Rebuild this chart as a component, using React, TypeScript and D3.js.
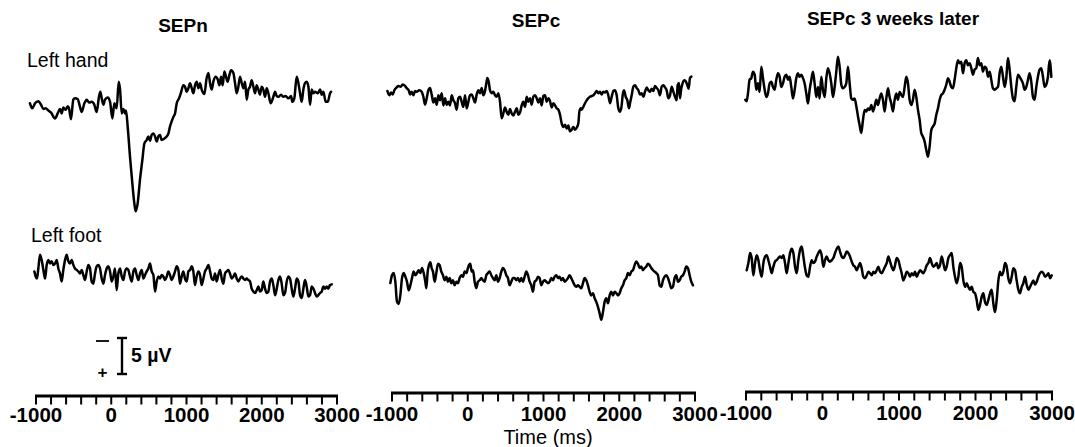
import React from 'react';
import * as d3 from 'd3';

// ---- data: [time ms, amplitude µV] (negative plotted upward) ----
const handSEPn: [number, number][] = [[-1080,0],[-1049,0.7],[-1013,0],[-969,-0.3],[-933,0.2],[-902,0.8],[-871,0.7],[-836,1.0],[-800,1.3],[-747,2.1],[-712,1.4],[-681,0.8],[-659,1.4],[-637,0.6],[-606,0.9],[-579,0.4],[-561,0.7],[-535,2.2],[-504,-0.5],[-482,-0.7],[-446,-0.6],[-415,0.5],[-393,1.2],[-357,0],[-326,-0.5],[-295,-0.1],[-260,-0.2],[-225,0.2],[-194,1.2],[-163,-0.9],[-145,-1.6],[-127,-0.7],[-105,0.2],[-83,-0.5],[-47,-0.8],[-16,-0.2],[15,2.1],[41,0],[72,0.7],[99,-3.0],[117,-1.9],[139,1.4],[161,0.8],[183,1.4],[196,1.0],[218,3.2],[249,7.4],[280,11.1],[307,13.9],[325,15.0],[351,13.9],[382,10.6],[413,7.9],[440,5.6],[471,5.1],[493,4.6],[515,5.2],[537,4.4],[560,4.2],[582,4.6],[604,5.3],[626,4.6],[648,4.4],[670,5.1],[706,4.9],[737,4.6],[759,4.2],[781,3.2],[803,2.5],[825,1.9],[848,1.4],[870,0],[901,-0.7],[927,-1.5],[958,-2.5],[980,-2.3],[1003,-1.6],[1025,-2.1],[1047,-2.8],[1069,-2.1],[1091,-1.4],[1113,-2.5],[1135,-3.0],[1158,-2.1],[1180,-2.8],[1202,-1.9],[1237,-1.3],[1268,-3.5],[1291,-4.2],[1313,-2.8],[1335,-1.9],[1357,-3.0],[1388,-3.7],[1415,-3.3],[1437,-2.5],[1459,-3.7],[1481,-2.5],[1503,-4.4],[1525,-3.7],[1547,-3.0],[1570,-3.9],[1592,-4.6],[1623,-4.2],[1645,-2.8],[1667,-1.4],[1689,-2.3],[1711,-3.7],[1734,-2.8],[1756,-2.1],[1778,-3.0],[1800,-0.5],[1822,-1.9],[1844,-2.3],[1866,-3.2],[1889,-2.3],[1911,-1.4],[1933,-2.5],[1955,-1.9],[1977,-1.2],[1999,-2.3],[2021,-1.9],[2044,-0.9],[2066,-2.1],[2088,-1.4],[2119,0],[2154,-0.9],[2177,-1.6],[2199,-1.0],[2221,-0.9],[2256,-1.2],[2287,-0.9],[2318,-1.0],[2354,-0.7],[2389,-1.0],[2407,-0.2],[2433,-0.7],[2464,-3.7],[2487,-2.8],[2509,-1.4],[2531,-0.2],[2553,-1.9],[2575,-2.8],[2597,-3.0],[2620,-2.3],[2642,0.2],[2664,-1.9],[2686,-1.4],[2708,-1.6],[2744,-1.4],[2775,-1.9],[2797,-1.2],[2819,-1.6],[2850,-0.2],[2877,-0.2],[2908,-1.4],[2921,-1.6]];

const handSEPc: [number, number][] = [[-1061,-0.1],[-1035,0.5],[-1013,0.1],[-991,0.4],[-969,-0.2],[-938,-0.6],[-916,-0.8],[-885,-0.7],[-859,-1.0],[-828,-0.8],[-806,-0.5],[-780,-0.2],[-762,0.4],[-740,0],[-718,0.5],[-696,-0.1],[-674,0],[-639,-0.2],[-608,0],[-586,0.7],[-564,1.8],[-542,0.9],[-520,-0.2],[-498,-0.5],[-476,0.4],[-454,1.5],[-432,0.9],[-410,1.8],[-388,0.5],[-366,1.2],[-344,0.2],[-322,1.9],[-300,0.9],[-278,1.8],[-256,1.4],[-234,1.9],[-212,0.5],[-190,1.2],[-168,1.6],[-146,2.5],[-124,0.9],[-102,0.7],[-80,1.4],[-58,2.1],[-36,0.5],[-14,2.3],[8,1.4],[30,0.5],[52,0.4],[74,0.9],[96,1.5],[118,0.4],[140,-0.2],[162,0.2],[184,-0.5],[206,0.5],[228,-0.1],[241,-0.9],[259,-1.9],[276,-1.4],[294,-0.2],[316,0.2],[338,0],[360,0.5],[382,0.7],[404,0.2],[426,1.4],[448,3.7],[470,3.0],[492,2.2],[514,2.8],[536,3.2],[558,2.4],[580,3.0],[602,3.3],[624,2.8],[646,2.3],[668,3.2],[690,2.9],[712,1.9],[734,1.4],[756,2.1],[778,0.7],[800,1.4],[822,0.9],[844,1.8],[866,0.7],[888,0.5],[910,0.9],[932,1.5],[954,0.9],[976,1.9],[998,0.6],[1020,0.5],[1042,1.4],[1064,0.9],[1086,1.3],[1108,2.2],[1130,1.6],[1152,1.9],[1174,2.3],[1196,2.5],[1218,3.2],[1240,4.4],[1262,4.9],[1284,4.6],[1306,5.1],[1328,4.7],[1350,5.5],[1372,5.3],[1394,4.9],[1416,5.3],[1438,5.0],[1460,4.4],[1473,2.8],[1491,2.3],[1504,2.5],[1526,2.1],[1548,1.6],[1570,1.2],[1592,0.9],[1614,0.7],[1636,0.6],[1658,0.5],[1680,0.2],[1702,-0.1],[1724,0.2],[1746,0],[1768,0.4],[1790,0],[1812,0.1],[1834,-0.1],[1856,0.5],[1878,1.6],[1900,0.7],[1922,-0.1],[1944,-0.2],[1966,0.5],[1988,2.3],[2010,2.8],[2032,1.9],[2045,0.5],[2063,-0.2],[2085,0.7],[2107,1.2],[2129,2.3],[2142,1.6],[2164,0.5],[2186,-0.7],[2208,-0.9],[2230,-0.5],[2252,-0.2],[2274,0.4],[2296,0.2],[2318,0.7],[2340,0],[2362,-0.6],[2384,-0.2],[2406,0],[2428,-0.4],[2450,-0.1],[2472,-0.8],[2494,-0.5],[2516,-0.2],[2538,0.5],[2560,-0.7],[2582,-0.9],[2604,-0.6],[2626,-0.2],[2648,0.9],[2670,0.5],[2692,-0.7],[2714,0],[2736,0.7],[2758,1.2],[2771,-0.9],[2789,-1.2],[2802,0.9],[2815,-0.2],[2837,-1.2],[2859,-1.6],[2881,-1.4],[2899,-0.9],[2916,-0.4],[2934,-1.9],[2952,-2.1]];

const handSEPc3w: [number, number][] = [[-1009,2.3],[-992,2.5],[-974,1.4],[-953,-0.5],[-931,-0.7],[-909,-1.6],[-887,-1.2],[-865,0.9],[-844,0],[-822,1.2],[-800,-2.3],[-778,-0.7],[-756,0.9],[-735,1.9],[-713,1.4],[-691,0],[-669,-0.2],[-648,0.5],[-626,0.9],[-604,-0.5],[-582,-1.4],[-560,-0.9],[-539,0.5],[-517,0],[-495,-0.9],[-473,-1.2],[-451,-0.5],[-430,-0.9],[-408,0.5],[-386,2.1],[-364,0.9],[-343,-0.7],[-321,-1.4],[-299,-0.9],[-277,-1.2],[-255,-0.7],[-234,0],[-212,1.4],[-190,2.8],[-168,0.9],[-146,-0.5],[-125,-1.6],[-103,0],[-81,1.9],[-59,0.5],[-38,2.1],[-16,-0.9],[6,0.9],[28,1.9],[50,-0.7],[71,-2.1],[93,-1.4],[115,0],[137,1.9],[159,0.5],[180,-1.6],[202,-3.7],[224,-2.3],[246,0.2],[267,0.7],[289,0.5],[311,0],[333,-2.3],[355,0],[376,2.1],[398,2.3],[420,2.1],[442,3.2],[464,4.6],[485,5.8],[507,6.9],[529,5.1],[551,3.7],[572,3.9],[594,3.5],[616,3.7],[638,3.0],[660,3.9],[681,3.2],[703,2.3],[725,3.0],[747,2.1],[769,1.4],[790,2.3],[812,3.9],[834,2.1],[856,0.7],[877,1.9],[899,2.8],[921,3.9],[943,2.3],[965,1.4],[986,2.3],[1008,1.2],[1030,1.6],[1052,1.9],[1074,0.5],[1095,-0.9],[1117,0],[1139,2.3],[1161,3.0],[1182,2.3],[1204,0.9],[1226,1.9],[1248,3.7],[1270,5.1],[1291,6.9],[1313,7.4],[1335,8.1],[1357,9.3],[1379,10.2],[1400,8.8],[1422,6.5],[1444,6.0],[1466,5.6],[1487,4.4],[1509,3.5],[1531,2.3],[1553,1.6],[1575,1.4],[1596,0.9],[1618,0.2],[1640,-0.7],[1662,-0.2],[1683,0.5],[1705,0.7],[1727,-0.5],[1749,-2.1],[1771,-3.2],[1792,-2.8],[1814,-3.0],[1836,-1.4],[1858,-2.8],[1880,-3.2],[1901,-2.5],[1923,-2.8],[1945,-2.1],[1967,-1.2],[1988,-1.9],[2010,-2.1],[2032,-3.5],[2054,-2.5],[2076,-2.8],[2097,-1.6],[2119,-2.3],[2141,-2.1],[2163,-0.9],[2185,-1.6],[2206,-0.5],[2228,0.7],[2250,0.9],[2272,0.7],[2294,0.5],[2315,-1.4],[2337,-2.3],[2359,-0.9],[2381,0.5],[2402,-0.7],[2424,-3.5],[2446,-1.9],[2468,0.5],[2489,2.1],[2511,2.5],[2533,0.5],[2555,-1.2],[2577,-0.9],[2598,-0.5],[2620,0],[2642,0.9],[2664,0.5],[2686,-0.5],[2707,-1.4],[2729,-0.2],[2751,1.9],[2773,2.3],[2795,0.5],[2816,-0.9],[2838,-1.9],[2860,-2.1],[2882,-0.9],[2903,0.5],[2925,0.2],[2947,-0.9],[2969,-3.2],[2991,-0.9]];

const footSEPn: [number, number][] = [[-1022,-0.5],[-1004,0.2],[-987,0.5],[-969,-0.9],[-947,-2.8],[-925,-2.1],[-902,-0.7],[-880,0.5],[-858,-1.4],[-836,-2.1],[-814,-1.6],[-792,-1.9],[-769,-1.4],[-747,-1.6],[-725,-2.1],[-703,-0.9],[-681,-0.2],[-659,0.9],[-637,-0.7],[-614,-2.1],[-592,-2.8],[-570,-1.9],[-548,-1.6],[-526,-2.1],[-504,-1.4],[-482,-0.9],[-459,-0.7],[-437,-0.5],[-415,-0.2],[-393,-0.7],[-371,0],[-349,0.7],[-326,-0.5],[-304,-1.4],[-282,-0.9],[-260,0.9],[-238,1.2],[-216,-0.2],[-194,-1.2],[-171,-1.4],[-149,-0.9],[-127,0.5],[-105,1.2],[-83,0],[-61,-0.9],[-39,-1.2],[-16,-0.5],[6,0.9],[28,0.2],[50,-0.9],[72,2.1],[94,-0.2],[117,-0.9],[139,0.2],[161,0.7],[183,-0.5],[205,-0.9],[227,-0.7],[249,0.2],[272,0.9],[294,-0.5],[316,-0.9],[338,0],[360,0.7],[382,-0.2],[405,-0.7],[427,0.5],[449,0],[471,-0.5],[493,-0.9],[515,-1.6],[537,-0.5],[560,0],[582,2.3],[604,0.9],[626,0.2],[648,0.5],[670,0],[692,0.2],[715,0.7],[737,0.2],[759,-0.5],[781,0],[803,0.7],[825,0.2],[848,-0.5],[870,-1.2],[892,-0.7],[914,1.2],[936,0.2],[958,-0.5],[980,0.5],[1003,0.9],[1025,-0.5],[1047,-0.7],[1069,-1.2],[1091,-0.5],[1113,1.4],[1135,0.2],[1158,-0.5],[1180,0],[1202,1.4],[1224,0.5],[1246,-0.5],[1268,-0.9],[1291,-1.4],[1313,-0.5],[1335,0.5],[1357,0.7],[1379,-0.2],[1401,0.9],[1423,0],[1446,-0.7],[1468,0.5],[1490,1.2],[1512,-0.2],[1534,-0.5],[1556,-0.7],[1578,-0.2],[1601,0.5],[1623,0.2],[1645,-0.2],[1667,0.5],[1689,0.9],[1711,0.5],[1734,0.2],[1756,0.5],[1778,0.7],[1800,0.5],[1822,0.7],[1844,0.9],[1866,1.9],[1889,2.3],[1911,2.5],[1933,2.1],[1955,1.6],[1977,2.3],[1999,2.1],[2021,0.9],[2044,1.9],[2066,2.5],[2088,2.3],[2110,0.9],[2132,0.5],[2154,1.4],[2177,2.8],[2199,1.9],[2221,0.7],[2243,0.2],[2265,1.2],[2287,2.8],[2309,2.5],[2332,0.9],[2354,0.2],[2376,0.5],[2398,1.9],[2420,3.0],[2442,1.9],[2464,0.5],[2487,0.9],[2509,2.8],[2531,3.2],[2553,1.9],[2575,0.7],[2597,1.6],[2620,3.0],[2642,2.8],[2664,1.6],[2686,1.9],[2708,2.5],[2730,3.0],[2752,2.8],[2775,2.5],[2797,2.3],[2819,1.6],[2841,1.9],[2863,1.6],[2885,1.9],[2907,1.4],[2930,1.3]];

const footSEPc: [number, number][] = [[-1022,0.2],[-1000,-0.9],[-978,-1.2],[-956,0],[-934,2.8],[-912,3.1],[-890,1.9],[-868,-0.5],[-846,-1.2],[-824,-0.7],[-802,0],[-780,1.2],[-758,0.5],[-736,-0.5],[-714,-1.4],[-692,-0.9],[-670,-1.2],[-648,-1.6],[-626,-1.2],[-604,-1.9],[-582,-1.2],[-560,0],[-547,0.9],[-529,-1.4],[-512,-2.3],[-494,-2.7],[-477,-1.9],[-459,-1.4],[-437,0],[-415,-1.2],[-393,-2.5],[-371,-2.3],[-349,-1.4],[-327,-0.9],[-305,-0.2],[-283,-0.7],[-261,0],[-239,-0.5],[-217,0.2],[-195,-0.2],[-173,0.5],[-151,0],[-129,0.2],[-107,-0.5],[-85,-0.9],[-63,-0.7],[-41,-1.4],[-19,-1.2],[3,-1.9],[16,-2.3],[34,-2.5],[51,-1.4],[69,-1.6],[91,0],[113,0.9],[135,0],[157,-0.2],[179,-0.5],[201,-0.2],[223,0],[245,-0.9],[267,-1.2],[289,-1.4],[311,-0.9],[333,-0.5],[355,-0.2],[377,-0.9],[399,0],[421,-0.5],[443,-1.4],[465,-1.9],[487,-1.6],[509,-0.9],[531,-0.5],[553,0.5],[575,0],[597,-0.5],[619,-0.5],[641,-0.2],[663,-0.5],[685,0],[707,-0.5],[729,0],[751,-0.7],[773,-1.4],[795,-0.9],[817,0],[839,0.5],[861,1.4],[883,0],[905,-0.2],[927,-0.7],[949,-0.5],[971,0.5],[993,0],[1015,-0.2],[1037,0],[1059,0.2],[1081,0],[1103,-0.5],[1125,-0.2],[1147,-0.7],[1169,-0.9],[1191,-0.5],[1213,-0.7],[1235,-0.2],[1257,-0.5],[1279,0],[1301,-0.2],[1323,-0.5],[1345,-0.9],[1367,-0.5],[1389,0],[1411,0.5],[1433,0.7],[1455,0.5],[1477,0.7],[1499,0.9],[1521,0.2],[1543,-0.5],[1565,-0.2],[1587,0.5],[1609,1.4],[1631,1.9],[1653,1.6],[1675,2.3],[1697,2.8],[1719,3.5],[1741,4.4],[1763,5.3],[1785,4.2],[1807,2.8],[1829,2.3],[1851,3.0],[1873,1.9],[1895,1.4],[1917,1.9],[1939,1.4],[1961,1.6],[1983,1.9],[2005,1.6],[2027,0.9],[2049,0.5],[2071,-0.2],[2093,-0.5],[2115,-1.2],[2137,-0.9],[2159,-1.4],[2181,-1.6],[2203,-2.3],[2225,-2.8],[2247,-2.5],[2269,-1.9],[2291,-2.1],[2313,-1.6],[2335,-1.9],[2357,-2.1],[2379,-2.5],[2401,-2.3],[2423,-1.9],[2445,-1.6],[2467,-1.4],[2489,-1.2],[2511,-0.9],[2533,0.5],[2555,0.7],[2577,-0.2],[2599,-0.7],[2621,-0.9],[2643,-0.5],[2665,0.2],[2687,0.9],[2709,0.7],[2731,-0.5],[2753,-0.9],[2775,0],[2797,-0.2],[2819,-0.7],[2841,-0.9],[2863,-1.4],[2885,-2.1],[2907,-1.9],[2929,-0.9],[2951,0],[2973,0.5]];

const footSEPc3w: [number, number][] = [[-991,0.5],[-969,-0.5],[-947,-1.9],[-926,-1.2],[-904,1.2],[-882,-0.5],[-860,-1.6],[-838,-0.9],[-817,0.5],[-795,1.4],[-773,-0.5],[-751,-1.4],[-729,-1.6],[-708,-0.9],[-686,0],[-664,0.9],[-642,0],[-621,-0.7],[-599,-0.9],[-577,-1.2],[-555,-1.4],[-533,-1.2],[-512,-1.6],[-490,-0.5],[-468,0.9],[-446,-0.5],[-424,-1.9],[-403,-2.5],[-381,-1.9],[-359,0],[-337,0.9],[-316,-0.9],[-294,-2.3],[-272,-2.8],[-250,-1.4],[-228,0.2],[-207,1.2],[-185,1.4],[-163,0],[-141,-0.9],[-120,-0.5],[-98,-0.7],[-76,-1.4],[-54,-1.9],[-32,-2.3],[-11,-1.6],[11,0],[33,-0.9],[55,-1.4],[77,-0.9],[98,-0.7],[120,-0.9],[142,-1.2],[164,-1.9],[186,-2.5],[207,-2.8],[229,-2.1],[251,-1.4],[273,-1.2],[295,-1.6],[316,-2.1],[338,-1.9],[360,-1.4],[382,-0.7],[403,-0.2],[425,0],[447,0.5],[469,0],[491,-0.5],[512,0.2],[534,1.4],[556,1.6],[578,1.2],[599,0.7],[621,0.9],[643,1.2],[665,0.7],[687,0.9],[708,0.5],[730,0],[752,0.7],[774,0.9],[796,0.5],[817,0],[839,-0.5],[861,-1.4],[883,-0.7],[904,0],[926,0.5],[948,-0.2],[970,-1.2],[992,-0.9],[1013,0],[1035,0.9],[1057,1.9],[1079,1.4],[1101,0.7],[1122,0.9],[1144,1.4],[1166,0.9],[1188,1.2],[1209,0.7],[1231,1.4],[1253,0.9],[1275,0.5],[1297,0.7],[1318,0.9],[1340,0.5],[1362,-0.2],[1384,-0.5],[1405,-1.2],[1427,-0.5],[1449,0],[1471,-0.2],[1493,-0.5],[1514,0.2],[1536,-0.2],[1558,-1.4],[1580,-0.5],[1602,0.5],[1623,0],[1645,-1.2],[1667,-1.6],[1689,-1.9],[1710,0],[1732,1.4],[1754,2.3],[1776,1.4],[1798,-0.5],[1819,0],[1841,1.9],[1863,2.8],[1885,2.3],[1906,2.8],[1928,3.2],[1950,2.8],[1972,3.5],[1994,3.7],[2015,4.6],[2037,6.0],[2059,5.3],[2081,4.2],[2103,3.7],[2124,4.9],[2146,5.3],[2168,4.6],[2190,3.7],[2211,3.2],[2233,5.1],[2255,6.3],[2277,4.6],[2299,1.9],[2320,0.7],[2342,1.2],[2364,0.7],[2386,-0.5],[2408,0],[2429,1.6],[2451,2.3],[2473,1.4],[2495,0.2],[2517,0.5],[2538,1.9],[2560,3.2],[2582,3.7],[2604,2.8],[2625,2.3],[2647,1.4],[2669,2.5],[2691,3.2],[2713,2.8],[2735,2.3],[2756,1.9],[2778,2.5],[2800,2.1],[2822,1.4],[2844,0.9],[2865,0.7],[2887,0.9],[2909,1.4],[2931,1.2],[2953,0.9],[2975,1.6],[2997,1.2]];

const tickValues = [-1000,-800,-600,-400,-200,0,200,400,600,800,1000,1200,1400,1600,1800,2000,2200,2400,2600,2800,3000];
const tickLabels = [-1000, 0, 1000, 2000, 3000];
const titles = ['SEPn', 'SEPc', 'SEPc 3 weeks later'];
const rowLabels = ['Left hand', 'Left foot'];
const scaleBarUV = 5;

// ---- layout ----
const W = 1075, H = 447;
const PX_PER_UV = 7.2;
const layout = [
  { x0: 36, x1: 337, axisY: 396, labelY: 422, titleX: 183, titleY: 32, handBase: 103.3, footBase: 275 },
  { x0: 392, x1: 695, axisY: 393, labelY: 421, titleX: 536, titleY: 27, handBase: 91.7, footBase: 281.7 },
  { x0: 746, x1: 1052, axisY: 392, labelY: 420, titleX: 893, titleY: 25, handBase: 83.3, footBase: 266.7 },
];
const handData = [handSEPn, handSEPc, handSEPc3w];
const footData = [footSEPn, footSEPc, footSEPc3w];

const FONT = '"Liberation Sans", Arial, Helvetica, sans-serif';

function Trace({ data, x, base }: { data: [number, number][]; x: d3.ScaleLinear<number, number>; base: number }) {
  const y = d3.scaleLinear().domain([0, 1]).range([base, base + PX_PER_UV]);
  const line = d3.line<[number, number]>().x(d => x(d[0])).y(d => y(d[1])).curve(d3.curveMonotoneX);
  return <path d={line(data) || ''} fill="none" stroke="#000" strokeWidth={2.5} strokeLinejoin="round" strokeLinecap="round" />;
}

export default function App() {
  const barY = d3.scaleLinear().domain([0, scaleBarUV]).range([338, 338 + scaleBarUV * PX_PER_UV]);
  return (
    <svg width={W} height={H} viewBox={`0 0 ${W} ${H}`} style={{ position: 'absolute', left: 0, top: 0, background: '#fff' }} fontFamily={FONT}>
      <rect x={0} y={0} width={W} height={H} fill="#fff" />
      {layout.map((p, i) => {
        const x = d3.scaleLinear().domain([-1000, 3000]).range([p.x0, p.x1]);
        return (
          <g key={i}>
            <text x={p.titleX} y={p.titleY} textAnchor="middle" fontWeight="bold" fontSize={19}>{titles[i]}</text>
            <Trace data={handData[i]} x={x} base={p.handBase} />
            <Trace data={footData[i]} x={x} base={p.footBase} />
            <line x1={x(-1000) - 1} x2={x(3000) + 1} y1={p.axisY} y2={p.axisY} stroke="#000" strokeWidth={3.2} />
            {tickValues.map(t => (
              <line key={t} x1={x(t)} x2={x(t)} y1={p.axisY} y2={p.axisY + 8.5} stroke="#000" strokeWidth={2} />
            ))}
            {tickLabels.map(t => (
              <text key={t} x={x(t)} y={p.labelY} textAnchor="middle" fontWeight="bold" fontSize={20.5}>{t}</text>
            ))}
          </g>
        );
      })}
      <text x={27} y={67} fontSize={19.5}>{rowLabels[0]}</text>
      <text x={31} y={242} fontSize={19.5}>{rowLabels[1]}</text>
      {/* scale bar */}
      <line x1={122} x2={122} y1={barY(0)} y2={barY(scaleBarUV)} stroke="#000" strokeWidth={2.4} />
      <line x1={117} x2={127} y1={barY(0)} y2={barY(0)} stroke="#000" strokeWidth={2.4} />
      <line x1={117} x2={127} y1={barY(scaleBarUV)} y2={barY(scaleBarUV)} stroke="#000" strokeWidth={2.4} />
      <text x={131} y={362} fontSize={19.5} fontWeight="bold">{`${scaleBarUV} µV`}</text>
      <line x1={96} x2={109} y1={341} y2={341} stroke="#000" strokeWidth={1.8} />
      <text x={102.5} y={378} fontSize={17} textAnchor="middle" fontWeight="bold">+</text>
      <text x={548} y={444} textAnchor="middle" fontSize={20}>Time (ms)</text>
    </svg>
  );
}
